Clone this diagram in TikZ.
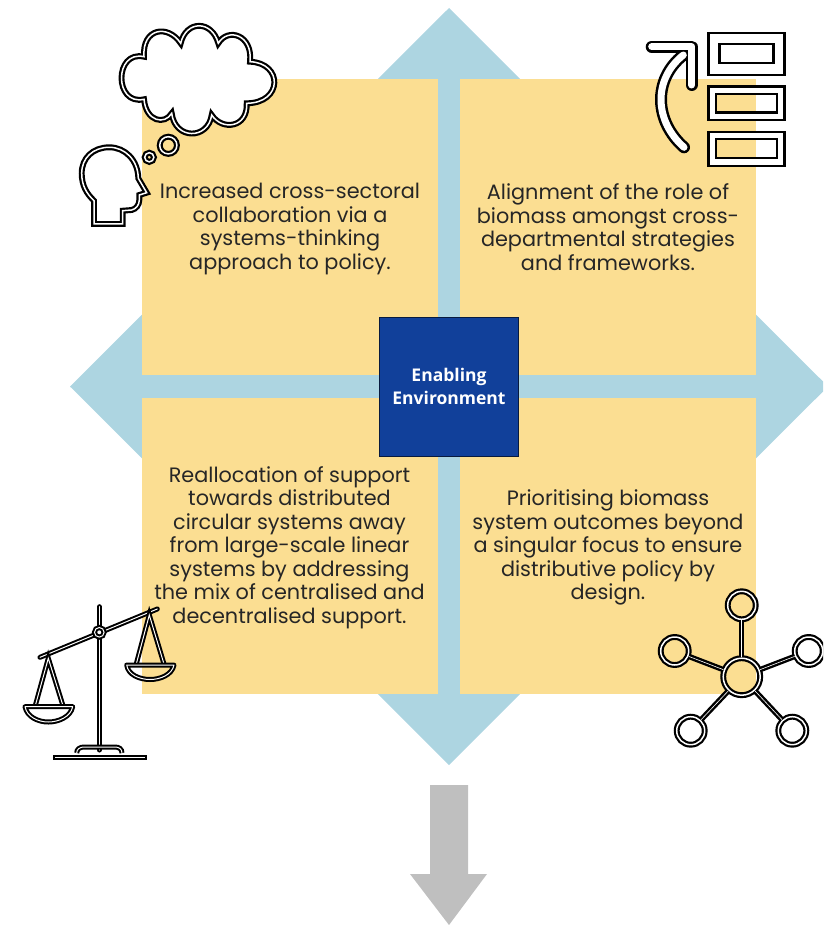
\documentclass[tikz,border=0pt]{standalone}
\usepackage{fontspec}
\setmainfont{Poppins}
\newfontfamily\labelfont{Open Sans}
\definecolor{diamondblue}{HTML}{ADD5E1}
\definecolor{boxyellow}{HTML}{FBDE92}
\definecolor{coreblue}{HTML}{11409A}
\definecolor{arrowgrey}{HTML}{BFBFBF}
\definecolor{inktext}{HTML}{262626}
\tikzset{
  yellowbox/.style={fill=boxyellow,draw=none},
  bodytext/.style={text=inktext,align=center,font=\fontsize{20.8}{23.5}\selectfont,inner sep=0pt},
  icon/.style={draw=black,line width=2.2pt,double=white,double distance=1.5pt,line join=miter},
  thinicon/.style={draw=black,line width=2pt,double=white,double distance=1pt,line cap=round},
  rectline/.style={draw=black,line width=2.4pt},
  netnode/.style={circle,icon,minimum size=28pt,inner sep=0pt},
}
\begin{document}
\begin{tikzpicture}[x=1pt,y=-1pt]
\useasboundingbox (0,0) rectangle (823,925);
\begin{scope}
\clip (0,0) rectangle (823,925);
\fill[diamondblue] (449,8) -- (828,386.5) -- (449,765) -- (70,386.5) -- cycle;
\fill[yellowbox] (142,79) rectangle (438,375);
\fill[yellowbox] (460,79) rectangle (756,375);
\fill[yellowbox] (142,398) rectangle (438,694);
\fill[yellowbox] (460,398) rectangle (756,694);
\fill[arrowgrey] (430,785) -- (468,785) -- (468,874) -- (487,874) -- (449,925) -- (410,874) -- (430,874) -- cycle;

\node[draw=black!60!coreblue,fill=coreblue,line width=0.8pt,minimum width=139pt,minimum height=139pt,inner sep=0pt,text=white,align=center,font=\labelfont\bfseries\fontsize{17.5}{23}\selectfont] (core) at (449,386.5) {Enabling\\Environment};

\node[bodytext] (t1) at (290,229) {Increased cross-sectoral\\collaboration via a\\systems-thinking\\approach to policy.};
\node[bodytext] (t2) at (608,227) {Alignment of the role of\\biomass amongst cross-\\departmental strategies\\and frameworks.};
\node[bodytext] (t3) at (289.5,547.5) {Reallocation of support\\towards distributed\\circular systems away\\from large-scale linear\\systems by addressing\\the mix of centralised and\\decentralised support.};
\node[bodytext] (t4) at (608,547.5) {Prioritising biomass\\system outcomes beyond\\a singular focus to ensure\\distributive policy by\\design.};

% cloud
\path[icon,fill=white] (144,56.7)
  .. controls (114,50) and (114,106) .. (144,99.3)
  .. controls (146,122) and (165,125) .. (171.7,113.3)
  .. controls (175,140) and (208,140) .. (211.7,115)
  .. controls (222,131) and (248,128) .. (246.7,103.3)
  .. controls (283,103) and (283,63) .. (250,61.7)
  .. controls (253,35) and (228,27) .. (218.3,43.3)
  .. controls (212,20) and (186,20) .. (180.7,43.3)
  .. controls (168,24) and (142,28) .. cycle;
\path[icon] (168.3,145.3) circle (8.6);
\path[icon] (149.3,157.3) circle (4.6);
% head
\path[icon,fill=white] (94,200.7) -- (94,224) -- (122.7,224) -- (122.7,210.7) -- (131.7,210)
  .. controls (136,209) and (139.3,205) .. (139.3,200) -- (139.3,195) -- (146.7,192.7) -- (138.3,178.3)
  .. controls (138,160) and (125,147.3) .. (109.3,147.3)
  .. controls (93,147.3) and (81.7,158) .. (81.7,173.3)
  .. controls (81.7,186) and (87,194) .. cycle;

% arrow
\foreach \c/\w in {black/12pt,white/7pt}{
  \draw[\c,line width=\w,line cap=round,line join=round] (651.7,46.7) -- (691.7,46.7) -- (691.7,85);
  \draw[\c,line width=\w,line cap=round] (683.3,55) .. controls (652,80) and (655,122) .. (684,147.3);
}
% list rectangles
\fill[white,even odd rule] (708.3,33.3) rectangle (784.3,75) (719.3,44) rectangle (773.3,63.3);
\fill[white,even odd rule] (708.3,86.7) rectangle (784.3,120) (716,94) rectangle (776.7,112.7);
\fill[white,even odd rule] (708.3,132.3) rectangle (784.3,166) (716,139.3) rectangle (776.7,158.3);
\draw[rectline] (708.3,33.3) rectangle (784.3,75);
\draw[rectline] (719.3,44) rectangle (773.3,63.3);
\draw[rectline] (708.3,86.7) rectangle (784.3,120);
\draw[rectline] (716,94) rectangle (776.7,112.7);
\draw[rectline] (708.3,132.3) rectangle (784.3,166);
\draw[rectline] (716,139.3) rectangle (776.7,158.3);

% scales
\path[thinicon] (99.3,606.7) -- (99.3,750);
\path[thinicon] (40,657.3) -- (157.3,609);
\path[thinicon,fill=white] (99.3,632.3) circle (4.8);
\path[thinicon,line cap=butt] (76.7,753) .. controls (76.7,749) and (80,747) .. (84,747) -- (115,747) .. controls (119,747) and (122,749) .. (122,753);
\path[draw=black,line width=2pt,fill=white] (53.8,755.5) rectangle (145.5,759);
\path[thinicon,line cap=butt] (136,665) -- (149.3,615) -- (164.3,665);
\path[thinicon,line join=round] (126.7,665) -- (174,665) .. controls (172,675) and (160,679.5) .. (150,679.5) .. controls (140,679.5) and (128,675) .. cycle;
\path[thinicon,line cap=butt] (35,706.7) -- (48.3,658.3) -- (63.3,706.7);
\path[thinicon,line join=round] (25,706.7) -- (72.7,706.7) .. controls (70.7,717) and (58.3,722) .. (48.3,722) .. controls (38.3,722) and (27,717) .. cycle;

% network
\node[netnode,minimum size=37pt] (hub) at (741.7,676.7) {};
\node[netnode] (n1) at (741.7,605.3) {};
\node[netnode] (n2) at (674.7,651) {};
\node[netnode] (n3) at (808.7,651) {};
\node[netnode] (n4) at (690.7,730.7) {};
\node[netnode] (n5) at (792.3,730.7) {};
\foreach \n in {n1,n2,n3,n4,n5}{
  \draw[draw=black,line width=2.4pt,double=white,double distance=0.6pt] (hub) -- (\n);
}
\end{scope}
\end{tikzpicture}
\end{document}
